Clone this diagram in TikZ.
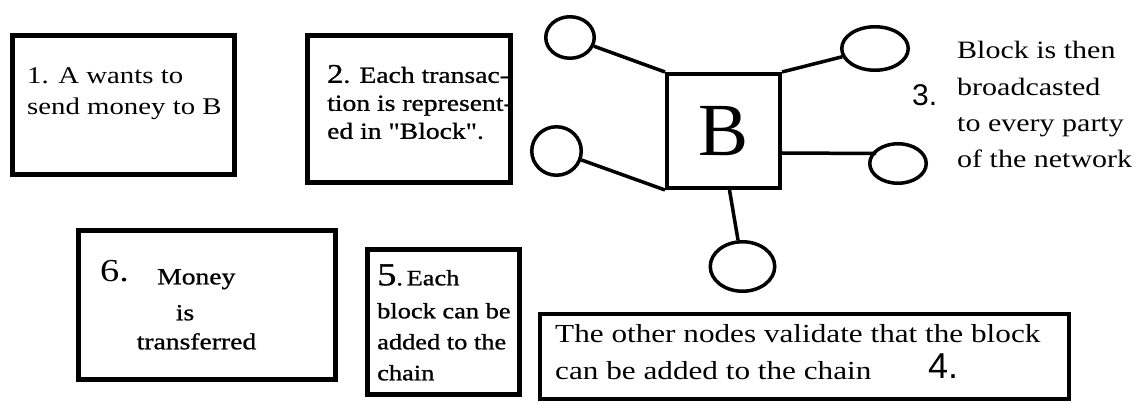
\documentclass[tikz,border=0pt]{standalone}
\usepackage{fontspec}
\setmainfont[FakeStretch=1.2]{Liberation Serif}
\newfontfamily\serifn{Liberation Serif}
\newfontfamily\heavy[FakeStretch=1.2,FakeBold=1]{Liberation Serif}
\newfontfamily\sansn{Liberation Sans}
\usetikzlibrary{shapes.geometric}
\newcommand\myfs[1]{\fontsize{#1}{#1}\selectfont}
\tikzset{
  box/.style={draw, line width=5pt, inner sep=0pt},
  peer/.style={draw, ellipse, line width=3.5pt, inner sep=0pt},
  link/.style={line width=3.5pt},
  txt/.style={anchor=mid west, inner sep=0pt},
  ctxt/.style={anchor=mid, inner sep=0pt},
}
\begin{document}
\begin{tikzpicture}[x=1pt, y=-1pt]
\useasboundingbox (0,0) rectangle (1143,403);

% boxes
\node[box, minimum width=222pt, minimum height=139pt] (b1) at (123.5,105) {};
\node[box, minimum width=203pt, minimum height=147pt] (b2) at (409,109) {};
\node[box, minimum width=257pt, minimum height=149pt] (b6) at (207,305) {};
\node[box, minimum width=152pt, minimum height=145pt] (b5) at (443.5,322) {};
\node[box, line width=4pt, minimum width=529pt, minimum height=85pt] (b4) at (804.5,356.5) {};

% block and peers
\node[draw, line width=4pt, minimum width=113pt, minimum height=114pt, inner sep=0pt,
      font=\serifn\myfs{75}] (sq) at (723.5,131) {B};
\node[peer, minimum width=48.5pt, minimum height=41.5pt] (e1) at (570,37.5) {};
\node[peer, minimum width=66.5pt, minimum height=43.5pt] (e2) at (875,48.5) {};
\node[peer, minimum width=49.5pt, minimum height=48.5pt] (e3) at (556.5,151) {};
\node[peer, minimum width=56.5pt, minimum height=39.5pt] (e4) at (898,163.5) {};
\node[peer, minimum width=64.5pt, minimum height=49.5pt] (e5) at (742.5,266.5) {};

\draw[link] (e1) -- (sq.north west);
\draw[link] (sq.north east) -- (e2);
\draw[link] (e3) -- (sq.south west);
\draw[link] ([yshift=-22pt]sq.east) -- ([xshift=8pt,yshift=10pt]e4.west);
\draw[link] ([xshift=6pt]sq.south) -- (e5);

% box 1
\node[txt, font=\myfs{24}] (t1a) at (27,81) {1. A wants to};
\node[txt, font=\myfs{24}] (t1b) at (27,112) {send money to B};

% box 2
\node[txt, font=\heavy\myfs{23}] (t2a) at (327,80.5) {{\myfs{27}2}. Each transac-};
\node[txt, font=\heavy\myfs{23}] (t2b) at (327,108.5) {tion is represent-};
\node[txt, font=\heavy\myfs{23}] (t2c) at (327,136.5) {ed in "Block".};

% step 3
\node[txt, font=\sansn\myfs{30}] (n3) at (912,103) {3.};
\node[txt, font=\myfs{25}] (t3a) at (957,56) {Block is then};
\node[txt, font=\myfs{25}] (t3b) at (957,93) {broadcasted};
\node[txt, font=\myfs{25}] (t3c) at (957,129) {to every party};
\node[txt, font=\myfs{25}] (t3d) at (957,165) {of the network};

% box 4
\node[txt, font=\myfs{26}] (t4a) at (555,340) {The other nodes validate that the block};
\node[txt, font=\myfs{26}] (t4b) at (555,377) {can be added to the chain};
\node[txt, font=\sansn\myfs{36}] (n4) at (928,376) {4.};

% box 5
\node[txt, font=\heavy\myfs{22}] (t5a) at (377,283) {{\myfs{32}5}.\,Each};
\node[txt, font=\heavy\myfs{22}] (t5b) at (377,316) {block can be};
\node[txt, font=\heavy\myfs{22}] (t5c) at (377,347) {added to the};
\node[txt, font=\heavy\myfs{22}] (t5d) at (377,378) {chain};

% box 6
\node[txt, font=\myfs{32}] (n6) at (100,279) {6.};
\node[txt, font=\heavy\myfs{23}] (t6a) at (157,282) {Money};
\node[ctxt, font=\heavy\myfs{23}] (t6b) at (185,318) {is};
\node[ctxt, font=\heavy\myfs{23}] (t6c) at (196.5,347) {transferred};
\end{tikzpicture}
\end{document}
